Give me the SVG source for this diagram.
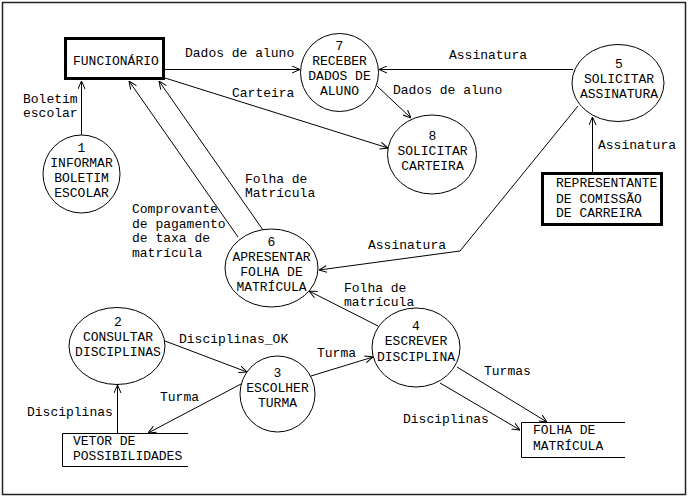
<svg xmlns="http://www.w3.org/2000/svg" width="688" height="496" viewBox="0 0 688 496">
<style>
text{font-family:"Liberation Mono","Courier New",monospace;font-size:13px;fill:#000}
.c{text-anchor:middle}
.proc{fill:#fff;stroke:#000;stroke-width:1}
.ent{fill:#fff;stroke:#000;stroke-width:3}
.store{fill:none;stroke:#000;stroke-width:1}
.flow{fill:none;stroke:#000;stroke-width:1;marker-end:url(#ah)}
</style>
<defs>
<marker id="ah" viewBox="0 0 8 8" refX="8" refY="4" markerWidth="8" markerHeight="8" markerUnits="userSpaceOnUse" orient="auto">
<path d="M0,0.5 L8,4 L0,7.5" fill="none" stroke="#000" stroke-width="1"/>
</marker>
</defs>
<rect x="0" y="0" width="688" height="496" fill="#fff"/>
<rect x="2.5" y="2.5" width="683" height="492" fill="none" stroke="#222" stroke-width="1.5"/>

<g id="connectors">
<path class="flow" d="M81.5,135 V81"/>
<path class="flow" d="M165,69.5 H300"/>
<path class="flow" d="M377,86 L411,118"/>
<path class="flow" d="M165,78 L388,148"/>
<path class="flow" d="M573,69.5 H379"/>
<path class="flow" d="M592.5,172 V117"/>
<path class="flow" d="M578,106 L460,251 L319,270"/>
<path class="flow" d="M238,237 L129,81"/>
<path class="flow" d="M263,230 L159,81"/>
<path class="flow" d="M378,326 L309,291"/>
<path class="flow" d="M117.5,433 V385"/>
<path class="flow" d="M165,341 L247,372"/>
<path class="flow" d="M241,384 L148,433"/>
<path class="flow" d="M311,376 L373,357"/>
<path class="flow" d="M457,367 L547,422"/>
<path class="flow" d="M440,383 L520,430"/>
</g>

<g id="labels">
<text x="185" y="57">Dados de aluno</text>
<text x="232" y="97">Carteira</text>
<text x="23" y="103">Boletim</text>
<text x="23" y="117">escolar</text>
<text x="449" y="59">Assinatura</text>
<text x="393" y="94">Dados de aluno</text>
<text x="598" y="149">Assinatura</text>
<text x="245" y="183">Folha de</text>
<text x="245" y="197">Matrícula</text>
<text x="132" y="213">Comprovante</text>
<text x="132" y="228">de pagamento</text>
<text x="132" y="242">de taxa de</text>
<text x="132" y="257">matrícula</text>
<text x="368" y="249">Assinatura</text>
<text x="344" y="292">Folha de</text>
<text x="344" y="306">matrícula</text>
<text x="179" y="343">Disciplinas_OK</text>
<text x="317" y="357">Turma</text>
<text x="160" y="401">Turma</text>
<text x="27" y="416">Disciplinas</text>
<text x="484" y="375">Turmas</text>
<text x="403" y="423">Disciplinas</text>
</g>

<g id="funcionario">
<rect class="ent" x="65.5" y="38.5" width="98" height="40"/>
<text x="73" y="65">FUNCIONÁRIO</text>
</g>

<g id="representante">
<rect class="ent" x="542.5" y="173.5" width="119" height="51"/>
<text x="556" y="187">REPRESENTANTE</text>
<text x="556" y="203">DE COMISSÃO</text>
<text x="556" y="217">DE CARREIRA</text>
</g>

<g id="p1">
<ellipse class="proc" cx="81.5" cy="174" rx="38.5" ry="39"/>
<text class="c" x="81.5" y="152">1</text>
<text class="c" x="81.5" y="167">INFORMAR</text>
<text class="c" x="81.5" y="182">BOLETIM</text>
<text class="c" x="81.5" y="197">ESCOLAR</text>
</g>

<g id="p7">
<ellipse class="proc" cx="339.5" cy="72.5" rx="39" ry="39"/>
<text class="c" x="339.5" y="49.5">7</text>
<text class="c" x="339.5" y="64.5">RECEBER</text>
<text class="c" x="339.5" y="79.5">DADOS DE</text>
<text class="c" x="339.5" y="94.5">ALUNO</text>
</g>

<g id="p8">
<ellipse class="proc" cx="432" cy="154.5" rx="44.5" ry="39.5"/>
<text class="c" x="432.5" y="139.5">8</text>
<text class="c" x="432.5" y="154.5">SOLICITAR</text>
<text class="c" x="432.5" y="169.5">CARTEIRA</text>
</g>

<g id="p5">
<ellipse class="proc" cx="618" cy="83" rx="46" ry="38.5"/>
<text class="c" x="619" y="67.5">5</text>
<text class="c" x="619" y="82.5">SOLICITAR</text>
<text class="c" x="619" y="97.5">ASSINATURA</text>
</g>

<g id="p6">
<ellipse class="proc" cx="271.5" cy="268" rx="46.5" ry="39"/>
<text class="c" x="271.5" y="246">6</text>
<text class="c" x="271.5" y="261">APRESENTAR</text>
<text class="c" x="271.5" y="276">FOLHA DE</text>
<text class="c" x="271.5" y="291">MATRÍCULA</text>
</g>

<g id="p2">
<ellipse class="proc" cx="117" cy="346" rx="48" ry="38.5"/>
<text class="c" x="118" y="326">2</text>
<text class="c" x="118" y="341">CONSULTAR</text>
<text class="c" x="118" y="356">DISCIPLINAS</text>
</g>

<g id="p3">
<ellipse class="proc" cx="277.5" cy="394" rx="37.5" ry="38"/>
<text class="c" x="277.5" y="376.5">3</text>
<text class="c" x="277.5" y="391.5">ESCOLHER</text>
<text class="c" x="277.5" y="406.5">TURMA</text>
</g>

<g id="p4">
<ellipse class="proc" cx="416" cy="347.5" rx="44" ry="39.5"/>
<text class="c" x="416" y="329.5">4</text>
<text class="c" x="416" y="345">ESCREVER</text>
<text class="c" x="416" y="360.5">DISCIPLINA</text>
</g>

<g id="vetor">
<path class="store" d="M188,433.5 H62.5 V466.5 H188"/>
<text x="73" y="445">VETOR DE</text>
<text x="73" y="460">POSSIBILIDADES</text>
</g>

<g id="folha">
<path class="store" d="M625,422.5 H521.5 V457.5 H625"/>
<text x="533" y="434">FOLHA DE</text>
<text x="533" y="450">MATRÍCULA</text>
</g>
</svg>
